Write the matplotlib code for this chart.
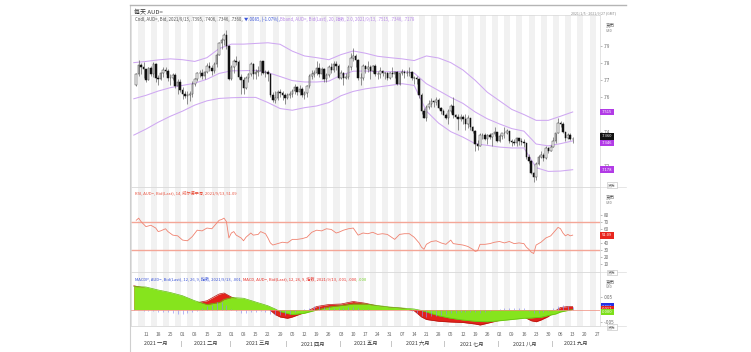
import numpy as np
import pandas as pd
import matplotlib
matplotlib.use("Agg")
import matplotlib.pyplot as plt

plt.rcParams['font.family'] = ['Noto Sans CJK SC', 'DejaVu Sans']

W, H = 751, 352

# ---- daily candles, 2021-01-05 .. 2021-09-13 (AUD=, bid) ----
first_open = 0.7673
close = [
    .7737, .7791, .7777, .7764,
    .7704, .7771, .7737, .7794, .7713,  .7706, .7741, .7758, .7757, .7711,
    .7712, .7733, .7664, .7692, .7645,  .7620, .7608, .7612, .7618, .7680,
    .7707, .7740, .7741, .7725, .7747,  .7781, .7773, .7755, .7793, .7850,
    .7917, .7934, .7962, .7900, .7710,  .7777, .7812, .7805, .7720, .7703,
    .7657, .7715, .7735, .7795, .7737,  .7748, .7756, .7812, .7745, .7749,
    .7738, .7612, .7587, .7597, .7634,  .7623, .7613, .7598, .7613, .7617,
    .7640, .7658, .7630, .7649, .7616,  .7627, .7665, .7727, .7737, .7744,
    .7770, .7735, .7764, .7705, .7730,  .7777, .7760, .7795, .7785, .7715,
    .7740, .7715, .7720, .7780, .7830,  .7840, .7820, .7715, .7715, .7785,
    .7765, .7775, .7752, .7782, .7738,  .7737, .7752, .7745, .7742, .7715,
    .7740, .7735, .7750, .7680, .7740,  .7750, .7742, .7745, .7750, .7715,
    .7712, .7705, .7615, .7523, .7480,  .7545, .7563, .7578, .7573, .7587,
    .7540, .7520, .7500, .7480, .7520,  .7550, .7497, .7483, .7475, .7487,
    .7475, .7445, .7480, .7425, .7402,  .7330, .7316, .7380, .7380, .7355,
    .7378, .7367, .7384, .7397, .7344,  .7376, .7392, .7390, .7403, .7345,
    .7340, .7335, .7365, .7345, .7340,  .7335, .7251, .7231, .7160, .7133,
    .7213, .7255, .7265, .7245, .7303,  .7290, .7313, .7345, .7393, .7453,
    .7447, .7400, .7363, .7378, .7355,  .7360,
]
high = [
    .7745, .7820, .7800, .7805,
    .7760, .7780, .7785, .7805, .7800,  .7730, .7750, .7775, .7780, .7765,
    .7735, .7745, .7745, .7710, .7705,  .7660, .7640, .7635, .7640, .7695,
    .7715, .7750, .7760, .7765, .7755,  .7800, .7805, .7790, .7805, .7860,
    .7925, .7945, .7975, .7995, .7905,  .7790, .7825, .7840, .7820, .7735,
    .7720, .7725, .7745, .7805, .7800,  .7765, .7785, .7815, .7810, .7760,
    .7760, .7740, .7630, .7640, .7645,  .7650, .7635, .7625, .7625, .7635,
    .7650, .7680, .7665, .7670, .7660,  .7640, .7670, .7735, .7760, .7760,
    .7815, .7800, .7775, .7770, .7740,  .7790, .7800, .7815, .7815, .7795,
    .7760, .7750, .7745, .7790, .7860,  .7890, .7855, .7825, .7740, .7795,
    .7790, .7815, .7790, .7790, .7795,  .7750, .7780, .7760, .7750, .7750,
    .7750, .7775, .7755, .7755, .7745,  .7765, .7760, .7760, .7775, .7755,
    .7725, .7725, .7715, .7625, .7540,  .7555, .7585, .7595, .7580, .7600,
    .7595, .7545, .7535, .7510, .7530,  .7560, .7600, .7505, .7505, .7505,
    .7495, .7505, .7495, .7480, .7435,  .7410, .7350, .7390, .7395, .7395,
    .7385, .7395, .7390, .7425, .7400,  .7385, .7395, .7425, .7415, .7405,
    .7360, .7360, .7370, .7365, .7365,  .7355, .7320, .7270, .7235, .7165,
    .7225, .7265, .7285, .7275, .7315,  .7310, .7325, .7370, .7395, .7478,
    .7465, .7455, .7400, .7390, .7395,  .7370,
]
low = [
    .7665, .7725, .7735, .7715,
    .7692, .7700, .7725, .7722, .7690,  .7675, .7700, .7720, .7735, .7695,
    .7675, .7700, .7655, .7620, .7630,  .7590, .7595, .7564, .7580, .7605,
    .7665, .7695, .7720, .7710, .7710,  .7740, .7755, .7730, .7745, .7780,
    .7845, .7880, .7905, .7880, .7700,  .7700, .7740, .7790, .7710, .7620,
    .7622, .7650, .7690, .7725, .7705,  .7710, .7725, .7730, .7735, .7720,
    .7695, .7600, .7575, .7565, .7585,  .7600, .7585, .7563, .7590, .7595,
    .7605, .7620, .7615, .7615, .7600,  .7590, .7605, .7655, .7705, .7720,
    .7730, .7720, .7710, .7690, .7690,  .7720, .7745, .7750, .7760, .7705,
    .7705, .7675, .7705, .7705, .7760,  .7815, .7775, .7700, .7675, .7700,
    .7740, .7750, .7710, .7740, .7725,  .7705, .7715, .7725, .7710, .7700,
    .7705, .7720, .7715, .7670, .7675,  .7730, .7715, .7725, .7725, .7700,
    .7680, .7680, .7595, .7505, .7477,  .7460, .7530, .7545, .7545, .7555,
    .7535, .7505, .7495, .7475, .7445,  .7510, .7480, .7480, .7410, .7465,
    .7445, .7410, .7420, .7410, .7390,  .7290, .7295, .7315, .7355, .7350,
    .7330, .7355, .7315, .7375, .7340,  .7340, .7355, .7365, .7385, .7335,
    .7315, .7320, .7315, .7325, .7320,  .7310, .7240, .7215, .7150, .7106,
    .7115, .7205, .7245, .7230, .7240,  .7275, .7285, .7310, .7335, .7390,
    .7430, .7390, .7345, .7360, .7350,  .7335,
]

# ---- Bollinger bands (20, 2.0), sampled on Mondays ----
band_upper = [.7803, .7810, .7819, .7825, .7820, .7810, .7832, .7885, .7911, .7911,
              .7915, .7919, .7910, .7870, .7842, .7832, .7820, .7850, .7871, .7858,
              .7840, .7832, .7825, .7815, .7842, .7830, .7803, .7760, .7700, .7630,
              .7580, .7530, .7500, .7466, .7466, .7490, .7515]
band_mid = [.7592, .7612, .7637, .7657, .7670, .7683, .7706, .7740, .7755, .7756,
            .7758, .7745, .7722, .7698, .7690, .7690, .7695, .7730, .7753, .7754,
            .7750, .7750, .7752, .7742, .7680, .7640, .7600, .7565, .7515, .7475,
            .7445, .7418, .7403, .7328, .7317, .7330, .7346]
band_lower = [.7380, .7415, .7455, .7490, .7520, .7555, .7580, .7594, .7598, .7600,
              .7600, .7570, .7535, .7525, .7540, .7550, .7570, .7610, .7635, .7650,
              .7660, .7670, .7680, .7670, .7520, .7450, .7400, .7368, .7330, .7320,
              .7310, .7305, .7305, .7190, .7168, .7170, .7178]

# ---- RSI (14, Wilder), trading day number from 2021-01-04 ----
rsi_day = [1, 2, 3, 5, 7, 9, 10, 11, 13, 14, 16, 18, 20, 22, 24, 26, 28, 30, 32, 33,
           35, 36, 37, 38, 39, 40, 41, 42, 44, 45, 46, 48, 49, 51, 52, 54, 55, 56, 57, 59,
           61, 63, 65, 67, 69, 71, 73, 75, 77, 79, 81, 83, 84, 86, 88, 90, 92, 94, 96, 98,
           100, 102, 104, 107, 109, 111, 113, 115, 117, 118, 119, 120, 122, 124, 126, 128,
           130, 131, 133, 135, 137, 139, 140, 141, 142, 144, 146, 148, 150, 152, 154, 156,
           158, 160, 161, 162, 163, 164, 165, 167, 169, 171, 172, 173, 174, 175, 176, 177,
           178, 179, 180]
rsi_val = [72, 75, 70, 63, 65, 61, 56, 57, 60, 56, 51, 50, 44, 43, 49, 58, 57, 61, 60, 64,
           72, 73, 75, 70, 47, 54, 56, 51, 47, 43, 48, 54, 51, 52, 56, 53, 47, 40, 37, 39,
           41, 40, 45, 45, 46, 48, 55, 58, 57, 60, 59, 54, 55, 58, 60, 61, 51, 54, 53, 55,
           52, 53, 52, 45, 52, 53, 53, 48, 40, 34, 31, 38, 42, 43, 40, 38,
           44, 39, 38, 37, 35, 31, 28, 29, 38, 38, 39, 41, 42, 40, 42, 39,
           40, 39, 34, 31, 27, 25, 37, 41, 47, 50, 54, 58, 62, 60, 54, 50,
           52, 50, 51]

# ---- MACD (12, 26, 9) ----
macd_day = [0, 5, 10, 15, 20, 25, 30, 35, 37, 40, 45, 50, 55, 58, 60, 63, 65, 70, 75, 80,
            85, 90, 95, 100, 105, 110, 115, 118, 120, 125, 130, 135, 140, 142, 145, 150,
            155, 160, 163, 165, 167, 170, 173, 175, 178, 180]
macd_line = [.0095, .0085, .0070, .0058, .0035, .0025, .0035, .0062, .0066, .0050,
             .0032, .0022, .0005, -.0020, -.0030, -.0035, -.0030, -.0012, .0012, .0020,
             .0022, .0032, .0025, .0014, .0008, .0005, -.0005, -.0030, -.0040, -.0047,
             -.0050, -.0052, -.0058, -.0062, -.0055, -.0043, -.0032, -.0030, -.0045, -.0049,
             -.0042, -.0028, -.0005, .0008, .0012, .0012]
macd_signal = [.0092, .0090, .0078, .0068, .0055, .0035, .0020, .0028, .0040, .0048,
               .0045, .0030, .0015, .0002, -.0008, -.0016, -.0020, -.0015, -.0002, .0010,
               .0016, .0022, .0022, .0016, .0010, .0006, .0002, -.0004, -.0010, -.0025,
               -.0035, -.0042, -.0047, -.0048, -.0049, -.0045, -.0040, -.0035, -.0034, -.0032,
               -.0031, -.0024, -.0018, -.0010, -.0004, .0000]
# MACDP histogram, every second trading day from day 0
macd_hist = [.0003, .0000, -.0004, -.0006, -.0007, -.0008, -.0009, -.0010, -.0012, -.0016,
             -.0018, -.0015, -.0010, -.0004, .0005, .0013, .0020, .0030, .0032, .0020,
             .0004, -.0006, -.0012, -.0014, -.0010, -.0008, -.0006, -.0009, -.0016, -.0022,
             -.0022, -.0020, -.0016, -.0008, -.0002, .0003, .0008, .0013, .0014, .0012,
             .0010, .0008, .0006, .0008, .0010, .0011, .0007, .0004, .0002, .0000,
             -.0002, -.0002, -.0003, -.0002, -.0001, -.0001, -.0003, -.0005, -.0012, -.0026,
             -.0030, -.0027, -.0024, -.0020, -.0017, -.0015, -.0013, -.0011, -.0010, -.0010,
             -.0011, -.0014, -.0009, -.0004, .0000, .0002, .0005, .0007, .0008, .0006,
             .0005, -.0004, -.0014, -.0014, -.0009, -.0004, .0006, .0015, .0018, .0016,
             .0012]

months = ['一月', '二月', '三月', '四月', '五月', '六月', '七月', '八月', '九月']

# ---- x positions: trading days counted from Monday 2021-01-04 ----
base = np.datetime64('2021-01-04')
dates = pd.bdate_range('2021-01-05', '2021-09-13')
day = np.busday_count(base, dates.values.astype('datetime64[D]'))
mondays = pd.date_range('2021-01-04', '2021-09-13', freq='W-MON')
band_day = np.busday_count(base, mondays.values.astype('datetime64[D]'))
tick_dates = pd.date_range('2021-01-11', '2021-09-27', freq='W-MON')
tick_day = np.busday_count(base, tick_dates.values.astype('datetime64[D]'))
hist_day = np.arange(0, 2 * len(macd_hist), 2)

c = np.array(close)
o = np.r_[first_open, c[:-1]]
hi = np.maximum(np.array(high), np.maximum(o, c))
lo = np.minimum(np.array(low), np.minimum(o, c))

fig = plt.figure(figsize=(W / 100, H / 100), dpi=100)


def rect(x0, y0, x1, y1):
    return [x0 / W, 1 - y1 / H, (x1 - x0) / W, (y1 - y0) / H]


ax_p = fig.add_axes(rect(131, 15, 600, 187))
ax_r = fig.add_axes(rect(131, 187, 600, 272), sharex=ax_p)
ax_m = fig.add_axes(rect(131, 272, 600, 326), sharex=ax_p)

xmin, xmax = -1.15, 191.2
for ax in (ax_p, ax_r, ax_m):
    ax.set_xlim(xmin, xmax)
    # alternating weekly shading
    for d in tick_day - 5:
        ax.axvspan(d + 1.9, d + 4.4, color='#f1f1f1', lw=0, zorder=0)
    ax.axvspan(tick_day[-1] + 1.9, tick_day[-1] + 4.4, color='#f1f1f1', lw=0, zorder=0)
    for s in ax.spines.values():
        s.set_color('#d8d8d8')
        s.set_linewidth(0.5)
    ax.yaxis.tick_right()
    ax.tick_params(axis='y', direction='out', length=1.5, width=0.4, colors='#888',
                   labelsize=3.3, pad=1, labelcolor='#666')
    ax.tick_params(axis='x', length=0)

# ---- price panel ----
ax_p.set_ylim(0.7077, 0.8081)
ax_p.plot(band_day, band_upper, color='#cfa8f2', lw=0.75, zorder=2)
ax_p.plot(band_day, band_mid, color='#cfa8f2', lw=0.75, zorder=2)
ax_p.plot(band_day, band_lower, color='#cfa8f2', lw=0.75, zorder=2)
ax_p.vlines(day, lo, hi, color='#555555', lw=0.45, zorder=3)
up = c >= o
ax_p.bar(day[up], (c - o)[up], bottom=o[up], width=0.62, color='white',
         edgecolor='#333333', lw=0.35, zorder=4)
ax_p.bar(day[~up], (c - o)[~up], bottom=o[~up], width=0.62, color='#111111',
         edgecolor='#111111', lw=0.35, zorder=4)
ax_p.set_yticks([.72, .74, .76, .77, .78, .79])
ax_p.set_yticklabels(['.72', '.74', '.76', '.77', '.78', '.79'])
plt.setp(ax_p.get_xticklabels(), visible=False)

yt = ax_p.get_yaxis_transform()
for val, txt, col in [(band_upper[-1], '.7515', '#b23be6'), (band_lower[-1], '.7178', '#b23be6'),
                      (band_mid[-1] - 0.0012, '.7346', '#b23be6'), (close[-1] + 0.0012, '.7360', '#111111')]:
    ax_p.text(1.004, val, txt, transform=yt, fontsize=3, color='white', va='center', ha='left',
              bbox=dict(boxstyle='square,pad=0.35', fc=col, ec='none'), clip_on=False)

# ---- RSI panel ----
ax_r.set_ylim(-1.1, 119)
ax_r.axhline(70, color='#f4a697', lw=1.0, zorder=2)
ax_r.axhline(30, color='#f4a697', lw=1.0, zorder=2)
ax_r.plot(rsi_day, rsi_val, color='#f08270', lw=0.6, zorder=3)
ax_r.set_yticks([10, 20, 30, 40, 60, 70, 80])
plt.setp(ax_r.get_xticklabels(), visible=False)
ax_r.text(1.004, rsi_val[-1], '51.09', transform=ax_r.get_yaxis_transform(), fontsize=3,
          color='white', va='center', ha='left',
          bbox=dict(boxstyle='square,pad=0.35', fc='#e8261e', ec='none'), clip_on=False)

# ---- MACD panel ----
ax_m.set_ylim(-0.0066, 0.015)
ax_m.fill_between(macd_day, macd_line, 0, color='#e3221b', lw=0, zorder=2)
ax_m.plot(macd_day, macd_line, color='#b51510', lw=0.5, zorder=2)
ax_m.fill_between(macd_day, macd_signal, 0, color='#86e41d', lw=0, zorder=3)
ax_m.plot(macd_day, macd_signal, color='#63bf10', lw=0.5, zorder=3)
ax_m.vlines(hist_day, 0, macd_hist, color='#8c8cf0', lw=0.45, zorder=4)
ax_m.axhline(0, color='#ef8a7a', lw=0.5, zorder=4)
ax_m.set_yticks([-0.005, 0.005])
ax_m.set_yticklabels(['-.005', '.005'])
mt = ax_m.get_yaxis_transform()
for k, (txt, col) in enumerate([('.0012', '#2430e6'), ('.0012', '#e3221b'), ('.0000', '#7ddf1a')]):
    ax_m.text(1.004, 0.0012 - k * 0.0011, txt, transform=mt, fontsize=3, color='white',
              va='center', ha='left', bbox=dict(boxstyle='square,pad=0.3', fc=col, ec='none'),
              clip_on=False)

ax_m.set_xticks(tick_day)
ax_m.set_xticklabels([d.strftime('%d') for d in tick_dates], fontsize=3.5, color='#666')
ax_m.tick_params(axis='x', pad=4)

# month row
for i, name in enumerate(months):
    m0 = np.busday_count(base, np.datetime64('2021-%02d-01' % (i + 1)))
    m1 = np.busday_count(base, np.datetime64('2021-%02d-01' % (i + 2)))
    x0, x1 = max(m0 - 0.5, xmin), min(m1 - 0.5, xmax)
    ax_m.text((x0 + x1) / 2, -0.33, '2021 ' + name, transform=ax_m.get_xaxis_transform(),
              fontsize=3.8, color='#333', ha='center', va='center', clip_on=False)
    if i > 0:
        ax_m.text(m0 - 0.5, -0.33, '|', transform=ax_m.get_xaxis_transform(),
                  fontsize=3.6, color='#666', ha='center', va='center', clip_on=False)

# ---- overlay in pixel coordinates: frame, headers, legends ----
ov = fig.add_axes([0, 0, 1, 1])
ov.set_xlim(0, W)
ov.set_ylim(H, 0)
ov.axis('off')
ov.plot([130, 130], [5, H], color='#cfcfcf', lw=0.8)
ov.plot([130, 626], [5, 5], color='#b5b5b5', lw=1.0)
for yy in (187, 272, 326):
    ov.plot([131, 626], [yy, yy], color='#dcdcdc', lw=0.5)

ov.text(134, 12, '每天 AUD=', fontsize=4.3, color='#333', va='center')
ov.text(616, 13, '2021/1/5 - 2021/9/27 (GMT)', fontsize=2.6, color='#888', va='center', ha='right')


def chain(x, y, parts, size):
    t = ov.text(x, y, parts[0][0], color=parts[0][1], fontsize=size, va='center')
    for s, col in parts[1:]:
        t = ov.annotate(s, xy=(1, 0.5), xycoords=t, color=col, fontsize=size, va='center')


chain(135, 19.5, [('Cndl, AUD=, Bid, 2021/9/13, .7395, .7406, .7346, .7360, ', '#555'),
                  ('▼.0085, (-1.07%), ', '#3b55d9'),
                  ('Bband, AUD=, Bid(Last), 20, 指数, 2.0, 2021/9/13, .7515, .7346, .7178', '#b98be8')], 3.1)
chain(135, 193, [('RSI, AUD=, Bid(Last), 14, 威尔德平滑, 2021/9/13, 51.09', '#e8503c')], 3.0)
chain(135, 279, [('MACDP, AUD=, Bid(Last), 12, 26, 9, 指数, 2021/9/13, .001, ', '#3b55d9'),
                 ('MACD, AUD=, Bid(Last), 12, 26, 9, 指数, 2021/9/13, .001, .000', '#e8302a'),
                 (', .000', '#6fcf20')], 3.0)

for y0 in (15, 187, 272):
    ov.text(606, y0 + 10, '货币', fontsize=3.3, color='#444', va='center', ha='left')
    ov.text(606, y0 + 15.5, 'USD', fontsize=2.4, color='#777', va='center', ha='left')
for yb in (185, 272.5, 327):
    ov.text(612, yb, '货币', fontsize=2.8, color='#666', va='center', ha='center',
            bbox=dict(boxstyle='square,pad=0.25', fc='white', ec='#bbbbbb', lw=0.4))

fig.savefig('out.png', dpi=100)
